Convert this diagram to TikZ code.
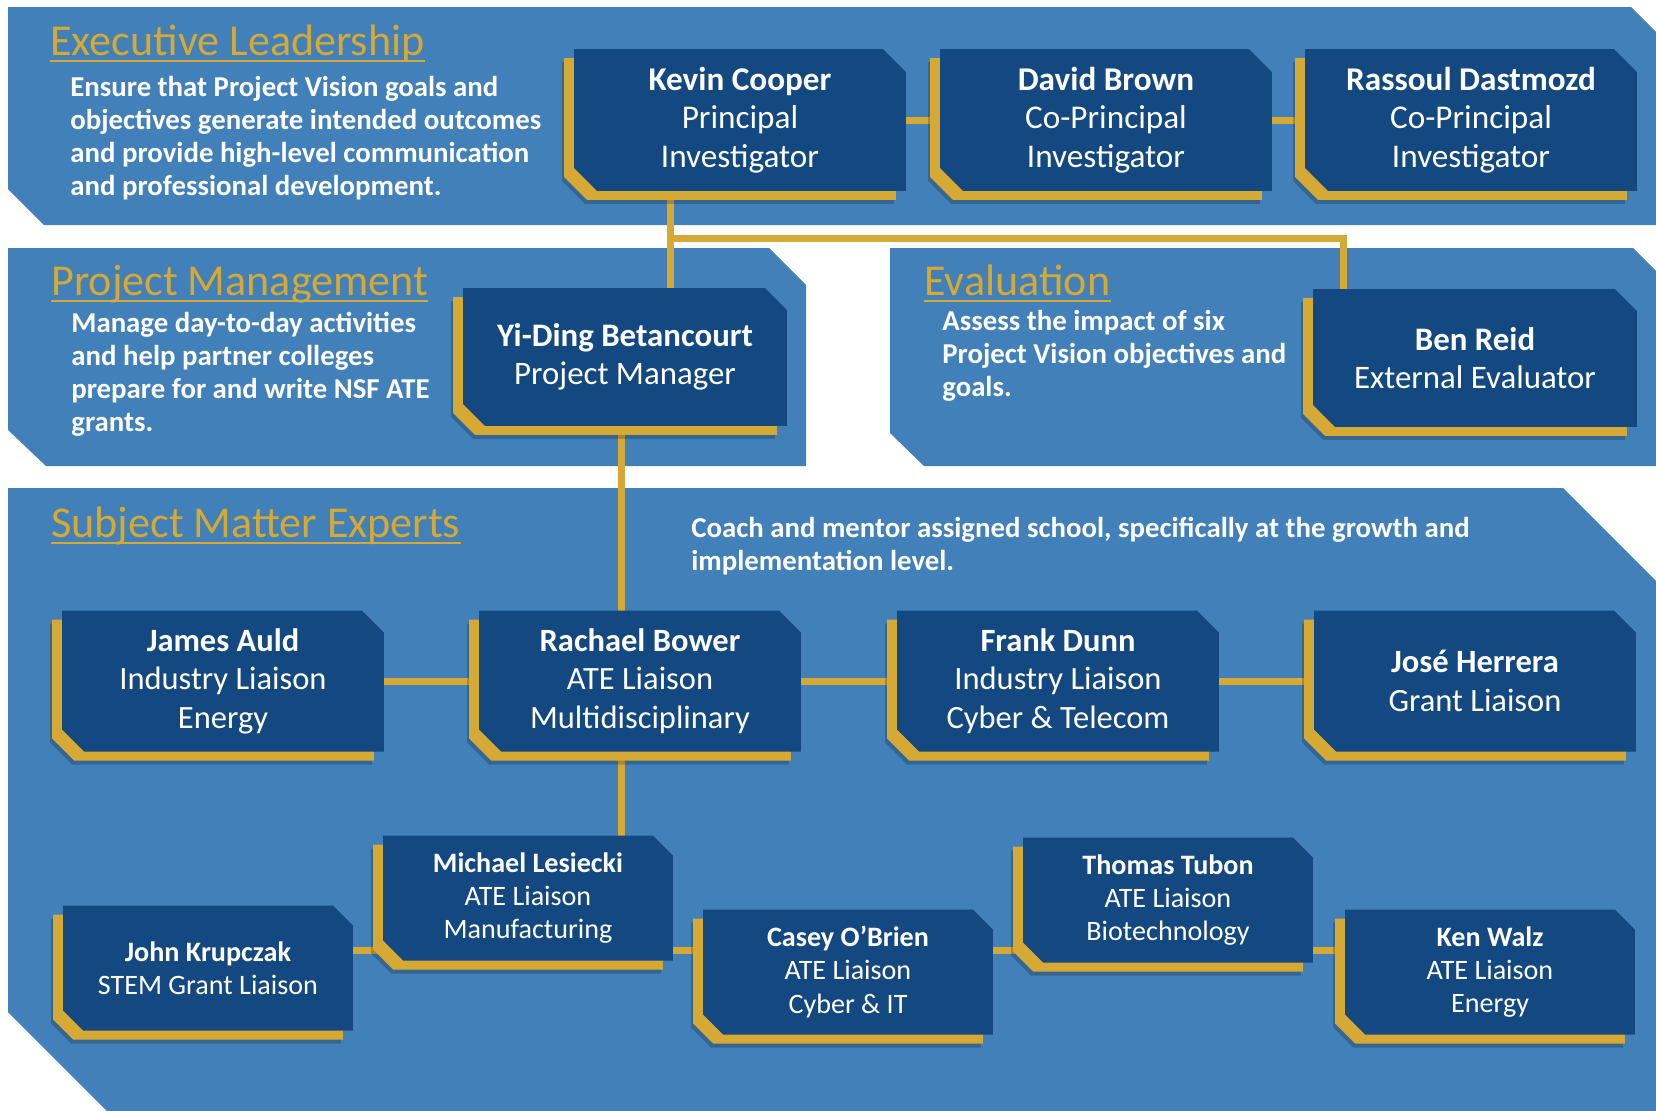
\documentclass[tikz,border=0pt]{standalone}
\usepackage{fontspec}
\setmainfont{Carlito}

\definecolor{bandblue}{RGB}{65,128,184}
\definecolor{cardblue}{RGB}{19,73,128}
\definecolor{gold}{RGB}{214,169,52}

\pgfdeclarelayer{bands}
\pgfdeclarelayer{links}
\pgfdeclarelayer{cards}
\pgfsetlayers{bands,links,cards,main}

\tikzset{
  card/.style={rectangle, inner sep=0pt, outer sep=0pt, align=center, text=white},
  bigcard/.style={card, minimum width=6.64cm, minimum height=2.84cm, font=\fontsize{18.9}{21.9}\selectfont},
  midcard/.style={card, minimum width=6.48cm, minimum height=2.76cm, font=\fontsize{18.7}{21.9}\selectfont},
  rowcard/.style={card, minimum width=6.44cm, minimum height=2.82cm, font=\fontsize{18.5}{21.9}\selectfont},
  smallcard/.style={card, minimum width=5.8cm, minimum height=2.5cm, font=\fontsize{16}{19}\selectfont},
  heading/.style={anchor=base west, inner sep=0pt, text=gold, font=\fontsize{25.1}{28}\selectfont},
  blurb/.style={anchor=base west, inner sep=0pt, align=left, text=white, font=\bfseries\fontsize{16.4}{18.6}\selectfont},
  link/.style={draw=gold, line width=0.14cm},
}

% outline of a card: node name, chamfer, offset
\newcommand\cardoutline[3]{%
  ([shift={#3}]#1.north west)
  -- ([shift={#3},shift={(-#2,0)}]#1.north east)
  -- ([shift={#3},shift={(0,#2)}]#1.north east)
  -- ([shift={#3}]#1.south east)
  -- ([shift={#3},shift={(#2,0)}]#1.south west)
  -- ([shift={#3},shift={(0,-#2)}]#1.south west) -- cycle}

\newcommand\cardshape[2]{%
  \begin{pgfonlayer}{cards}
    \fill[black, opacity=0.2] \cardoutline{#1}{#2}{(-12,13)};
    \fill[gold] \cardoutline{#1}{#2}{(-10,9)};
    \fill[cardblue] \cardoutline{#1}{#2}{(0,0)};
  \end{pgfonlayer}}

\newcommand\headline[1]{%
  \draw[gold, line width=0.05cm] ([shift={(0,6)}]#1.base west) -- ([shift={(0,6)}]#1.base east);}

\begin{document}
\begin{tikzpicture}[x=0.02cm, y=-0.02cm]

  \useasboundingbox (0,0) rectangle (1656,1110);

  % Bands
  \begin{pgfonlayer}{bands}
    \fill[white] (0,0) rectangle (1656,1110);
    \fill[bandblue] (8,7) -- (1631,7) -- (1700,76) -- (1700,225) -- (44,225) -- (8,189) -- cycle;
    \fill[bandblue] (8,248) -- (769,248) -- (806,285) -- (806,466) -- (46,466) -- (8,430) -- cycle;
    \fill[bandblue] (890,248) -- (1633,248) -- (1700,315) -- (1700,466) -- (924,466) -- (890,433) -- cycle;
    \fill[bandblue] (8,488) -- (1563,488) -- (1700,625) -- (1700,1150) -- (146,1150) -- (8,1012) -- cycle;
  \end{pgfonlayer}

  % Executive Leadership (blurbs are placed by the baseline of their last line)
  \node[heading] (exechead) at (50,55) {Executive Leadership};
  \headline{exechead}
  \node[blurb] (execblurb) at (70,195) {Ensure that Project Vision goals and\\objectives generate intended outcomes\\and provide high-level communication\\and professional development.};

  \node[bigcard] (kevin) at (740,120) {\textbf{Kevin Cooper}\\Principal\\Investigator};
  \cardshape{kevin}{23}
  \node[bigcard] (david) at (1106,120) {\textbf{David Brown}\\Co-Principal\\Investigator};
  \cardshape{david}{23}
  \node[bigcard] (rassoul) at (1471,120) {\textbf{Rassoul Dastmozd}\\Co-Principal\\Investigator};
  \cardshape{rassoul}{23}

  % Project Management
  \node[heading] (pmhead) at (51,295) {Project Management};
  \headline{pmhead}
  \node[blurb] (pmblurb) at (71,431) {Manage day-to-day activities\\and help partner colleges\\prepare for and write NSF ATE\\grants.};
  \node[midcard] (yiding) at (625,357) {\textbf{Yi-Ding Betancourt}\\Project Manager};
  \cardshape{yiding}{22}

  % Evaluation
  \node[heading] (evalhead) at (924,295) {Evaluation};
  \headline{evalhead}
  \node[blurb] (evalblurb) at (942,396) {Assess the impact of six\\Project Vision objectives and\\goals.};
  \node[midcard] (benreid) at (1475,358) {\textbf{Ben Reid}\\External Evaluator};
  \cardshape{benreid}{22}

  % Subject Matter Experts
  \node[heading] (smehead) at (51,537) {Subject Matter Experts};
  \headline{smehead}
  \node[blurb] (smeblurb) at (691,570) {Coach and mentor assigned school, specifically at the growth and\\implementation level.};

  \node[rowcard] (james) at (223,681) {\textbf{James Auld}\\Industry Liaison\\Energy};
  \cardshape{james}{22}
  \node[rowcard] (rachael) at (640,681) {\textbf{Rachael Bower}\\ATE Liaison\\Multidisciplinary};
  \cardshape{rachael}{22}
  \node[rowcard] (frank) at (1058,681) {\textbf{Frank Dunn}\\Industry Liaison\\Cyber \& Telecom};
  \cardshape{frank}{22}
  \node[rowcard] (jose) at (1475,681) {\textbf{José Herrera}\\Grant Liaison};
  \cardshape{jose}{22}

  \node[smallcard] (john) at (208,968) {\textbf{John Krupczak}\\STEM Grant Liaison};
  \cardshape{john}{20}
  \node[smallcard] (michael) at (528,898) {\textbf{Michael Lesiecki}\\ATE Liaison\\Manufacturing};
  \cardshape{michael}{20}
  \node[smallcard] (casey) at (848,972) {\textbf{Casey O’Brien}\\ATE Liaison\\Cyber \& IT};
  \cardshape{casey}{20}
  \node[smallcard] (thomas) at (1168,900) {\textbf{Thomas Tubon}\\ATE Liaison\\Biotechnology};
  \cardshape{thomas}{20}
  \node[smallcard] (ken) at (1490,972) {\textbf{Ken Walz}\\ATE Liaison\\Energy};
  \cardshape{ken}{20}

  % Connectors
  \coordinate (leadx) at (670,238);
  \coordinate (evalx) at (1343,238);
  \coordinate (pmx) at (621,0);
  \coordinate (rowy) at (0,950);
  \begin{pgfonlayer}{links}
    \draw[link] (kevin.east) -- (rassoul.west);
    \draw[link] (kevin.south -| leadx) -- (yiding.north -| leadx);
    \draw[link] (leadx) -- (evalx) -- (benreid.north -| evalx);
    \draw[link] (yiding.south -| pmx) -- (rachael.north -| pmx);
    \draw[link] (rachael.south -| pmx) -- (michael.north -| pmx);
    \draw[link] (james.east) -- (jose.west);
    \draw[link] (john.east |- rowy) -- (ken.west |- rowy);
  \end{pgfonlayer}

\end{tikzpicture}
\end{document}
